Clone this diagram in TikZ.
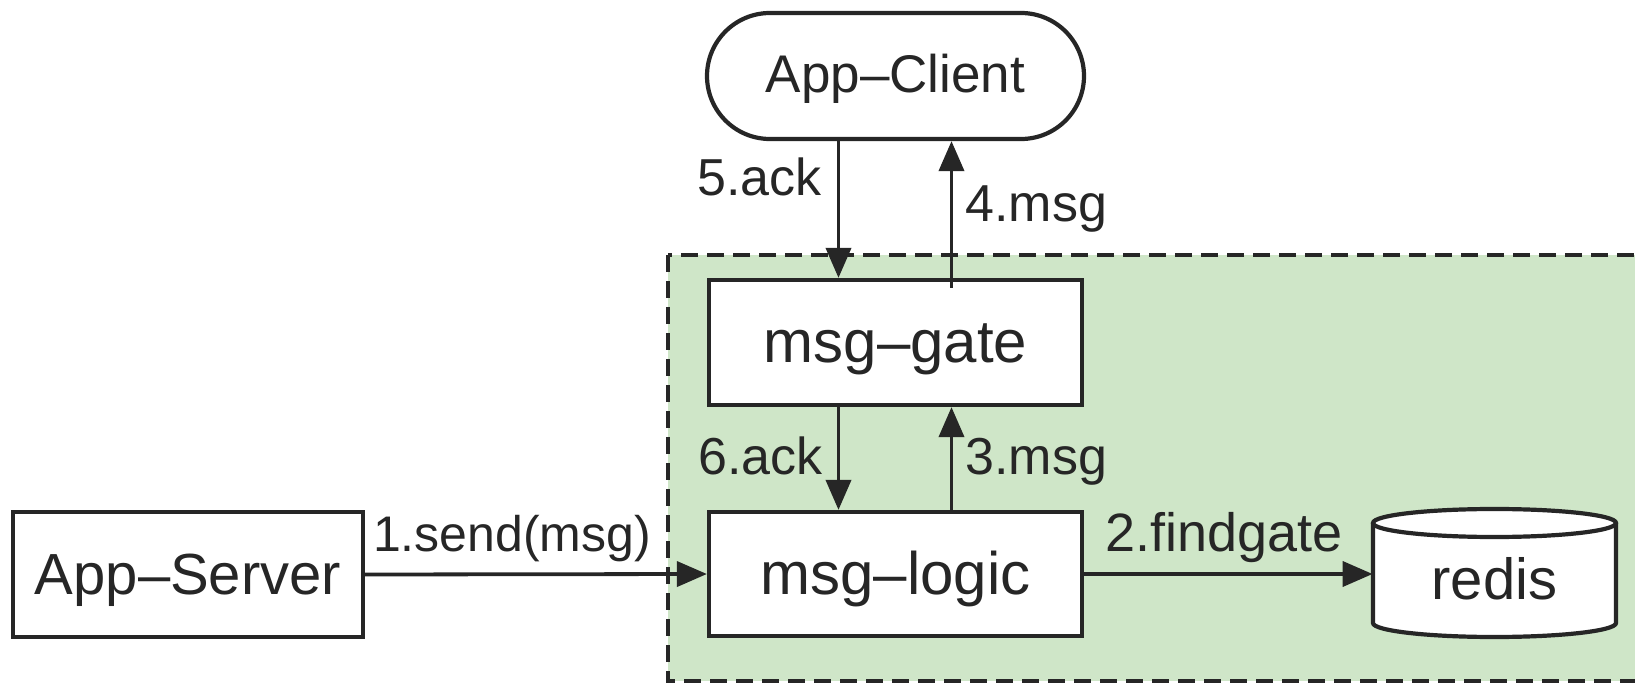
\documentclass[tikz,border=0pt]{standalone}
\usepackage{fontspec}
\setmainfont{Liberation Sans}
\usetikzlibrary{arrows.meta}
\definecolor{ink}{HTML}{262626}
\definecolor{zone}{RGB}{207,230,200}

\begin{document}
\begin{tikzpicture}[x=0.5pt,y=-0.5pt,
  every node/.style={text=ink},
  box/.style={draw=ink, line width=2.1pt, fill=white, inner sep=0pt,
    text height=25pt, text depth=5pt, font=\fontsize{30pt}{34pt}\selectfont},
  arr/.style={draw=ink, line width=1.9pt, -{Triangle[length=15pt,width=12.5pt]}},
  lbl/.style={inner sep=0pt, text height=22pt, text depth=4.3pt,
    font=\fontsize{#1}{#1}\selectfont},
  lbl/.default=26pt,
  zonebox/.style={fill=zone, draw=ink, line width=1.9pt, dash pattern=on 8.5pt off 4.5pt}
]
\useasboundingbox (0,0) rectangle (1635,684);

% shaded service zone, running off the right and bottom edges
\begin{scope}
  \clip (0,0) rectangle (1635,684);
  \draw[zonebox] (668,255) rectangle (1700,681);
\end{scope}

% redis cylinder
\fill[white] (1373,523) -- (1373,623)
  arc[start angle=180, end angle=0, x radius=121.5, y radius=14] -- (1616,523) -- cycle;
\draw[ink, line width=2.1pt] (1373,523) -- (1373,623)
  arc[start angle=180, end angle=0, x radius=121.5, y radius=14] -- (1616,523);
\draw[ink, line width=2.1pt, fill=white] (1494.5,523) ellipse[x radius=121.5, y radius=14];

% nodes
\node[box, rounded corners=31.5pt, minimum width=188.5pt, minimum height=63pt,
  text height=22pt, text depth=5pt, font=\fontsize{26.5pt}{30pt}\selectfont]
  (client) at (895.5,76) {App–Client};
\node[box, minimum width=186.5pt, minimum height=62.5pt] (gate) at (895.5,342.5) {msg–gate};
\node[box, minimum width=186.5pt, minimum height=62pt] (logic) at (895.5,574) {msg–logic};
\node[box, minimum width=175pt, minimum height=62.5pt, font=\fontsize{29pt}{33pt}\selectfont]
  (server) at (188,574.5) {App–Server};
\node[inner sep=0pt, minimum width=121.5pt, text height=25pt, text depth=5pt,
  font=\fontsize{29pt}{33pt}\selectfont] (redis) at (1494.5,579) {redis};

% connectors
\draw[arr] (server.east) -- node[lbl=25pt, pos=0.43, anchor=south, yshift=6pt] {1.send(msg)} (logic.west);
\draw[arr] (logic.east) -- node[lbl=27pt, pos=0.485, anchor=south, yshift=6pt] {2.findgate} (logic.east -| redis.west);
\draw[arr] ([xshift=28pt]logic.north) -- node[lbl, pos=0.52, anchor=west, xshift=6pt] {3.msg} ([xshift=28pt]gate.south);
\draw[arr, shorten <=-5pt] ([xshift=28pt]gate.north) -- node[lbl, pos=0.54, anchor=west, xshift=6pt] {4.msg} ([xshift=28pt]client.south);
\draw[arr] ([xshift=-28.5pt]client.south) -- node[lbl, pos=0.27, anchor=east, xshift=-7.5pt] {5.ack} ([xshift=-28.5pt]gate.north);
\draw[arr] ([xshift=-28.5pt]gate.south) -- node[lbl, pos=0.48, anchor=east, xshift=-7pt] {6.ack} ([xshift=-28.5pt]logic.north);
\end{tikzpicture}
\end{document}
